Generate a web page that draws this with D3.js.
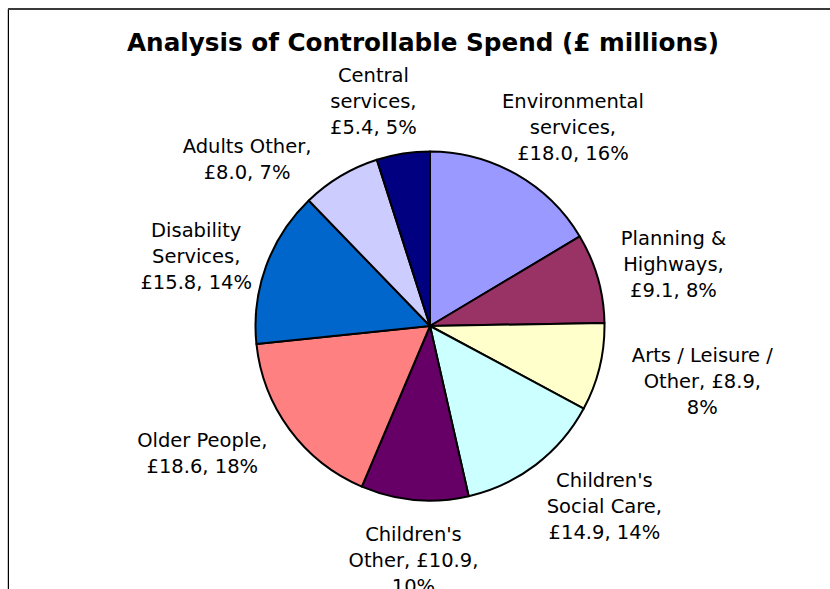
<!DOCTYPE html>
<html>
<head>
<meta charset="utf-8">
<script src="https://cdn.jsdelivr.net/npm/d3@7"></script>
<style>
  html, body { margin: 0; padding: 0; background: #fff; }
  svg { display: block; }
</style>
</head>
<body>
<svg id="chart" width="830" height="589"></svg>
<script>
// Controllable spend by service area, £ millions (clockwise from 12 o'clock)
const categories = [
  "Environmental services",
  "Planning & Highways",
  "Arts / Leisure / Other",
  "Children's Social Care",
  "Children's Other",
  "Older People",
  "Disability Services",
  "Adults Other",
  "Central services"
];
const spend = [18.0, 9.1, 8.9, 14.9, 10.9, 18.6, 15.8, 8.0, 5.4];
// Share of total as published alongside each figure (%)
const sharePct = [16, 8, 8, 14, 10, 18, 14, 7, 5];
const sliceColors = [
  "#9999FF", "#993366", "#FFFFCC", "#CCFFFF", "#660066",
  "#FF8080", "#0066CC", "#CCCCFF", "#000080"
];
const title = "Analysis of Controllable Spend (£ millions)";

// Label layout: wrap width per label and small shifts that keep labels apart
const wrapWidth = [145, 145, 145, 145, 145, 145, 145, 145, 110];
const labelShift = [
  [9, 9], [0, 4], [9, -1], [18, -11], [7, -5],
  [-14, -8], [7, 12], [-47, 27], [-19, 12]
];

const svg = d3.select("#chart");
const W = 830, H = 589;
const cx = 430, cy = 326, radius = 174.5;
const labelGap = 26;
const lineH = 26;
const labelFont = "DejaVu Sans, Verdana, sans-serif";
const labelSize = 19.5;

// Chart frame
svg.append("line").attr("x1", 7.5).attr("x2", 7.5).attr("y1", 9).attr("y2", H)
  .attr("stroke", "#c8c8c8").attr("stroke-width", 1);
svg.append("line").attr("x1", 8.5).attr("x2", 8.5).attr("y1", 9).attr("y2", H)
  .attr("stroke", "#000").attr("stroke-width", 1);
svg.append("line").attr("x1", 8).attr("x2", W).attr("y1", 9).attr("y2", 9)
  .attr("stroke", "#3a3a3a").attr("stroke-width", 2);

// Title
svg.append("text")
  .attr("x", 423).attr("y", 51)
  .attr("text-anchor", "middle")
  .attr("font-family", "DejaVu Sans Condensed, DejaVu Sans, sans-serif")
  .attr("font-weight", "bold")
  .attr("font-size", 24)
  .attr("textLength", 592)
  .attr("lengthAdjust", "spacingAndGlyphs")
  .attr("fill", "#000")
  .text(title);

const pie = d3.pie().sort(null).value(d => d)(spend);
const arc = d3.arc().innerRadius(0).outerRadius(radius);

const g = svg.append("g").attr("transform", `translate(${cx},${cy})`);

g.selectAll("path.slice")
  .data(pie)
  .join("path")
  .attr("class", "slice")
  .attr("d", arc)
  .attr("fill", (d, i) => sliceColors[i])
  .attr("stroke", "#000")
  .attr("stroke-width", 2)
  .attr("stroke-linejoin", "round");

// Measure text width in the label font
const measurer = svg.append("text")
  .attr("font-family", labelFont).attr("font-size", labelSize)
  .attr("visibility", "hidden");
function textWidth(s) {
  measurer.text(s);
  return measurer.node().getComputedTextLength();
}

function wrapWords(str, maxW) {
  const words = str.split(" ");
  const lines = [];
  let cur = "";
  words.forEach(w => {
    const trial = cur ? cur + " " + w : w;
    if (cur && textWidth(trial) > maxW) {
      lines.push(cur);
      cur = w;
    } else {
      cur = trial;
    }
  });
  if (cur) lines.push(cur);
  return lines;
}

const labels = g.append("g").attr("class", "labels");
pie.forEach((d, i) => {
  const str = `${categories[i]}, £${d.value.toFixed(1)}, ${sharePct[i]}%`;
  const lines = wrapWords(str, wrapWidth[i]);
  const w = d3.max(lines, textWidth);
  const h = lines.length * lineH;
  const a = (d.startAngle + d.endAngle) / 2;
  const sx = Math.sin(a), sy = -Math.cos(a);
  const dist = radius + labelGap;
  const bx = dist * sx + (w / 2) * sx + labelShift[i][0];
  const by = dist * sy + (h / 2) * sy + labelShift[i][1];
  const top = by - h / 2;
  const t = labels.append("text")
    .attr("text-anchor", "middle")
    .attr("font-family", labelFont)
    .attr("font-size", labelSize)
    .attr("fill", "#000");
  lines.forEach((ln, k) => {
    t.append("tspan")
      .attr("x", bx)
      .attr("y", top + 20 + k * lineH)
      .text(ln);
  });
});
measurer.remove();
</script>
</body>
</html>
